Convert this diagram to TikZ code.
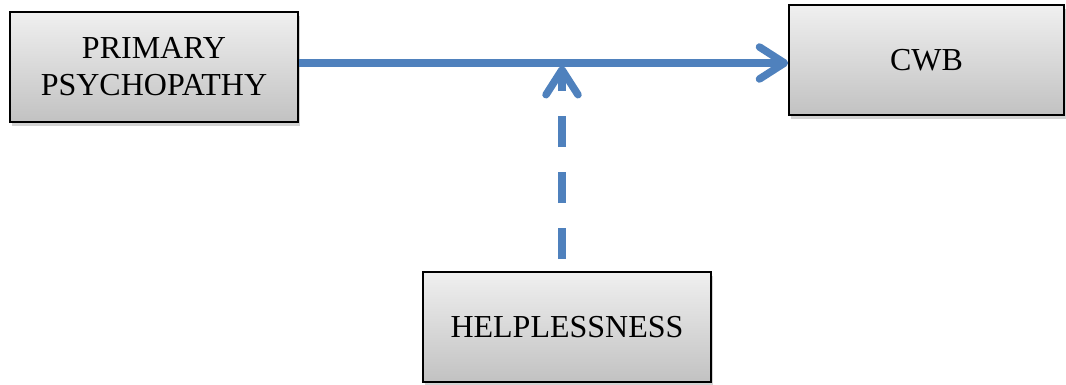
\documentclass[tikz,border=0pt]{standalone}
\usepackage{fontspec}
\setmainfont{Liberation Serif}
\usetikzlibrary{arrows.meta}
\usetikzlibrary{shadows}
\definecolor{linkblue}{HTML}{4F81BD}

\begin{document}
\begin{tikzpicture}[x=1pt,y=-1pt,
  varbox/.style={draw=black,line width=1.6pt,rectangle,inner sep=0pt,
    top color=gray!12,bottom color=gray!48,align=center,
    font=\fontsize{32}{37}\selectfont,
    drop shadow={shadow xshift=2pt,shadow yshift=-4pt,opacity=0.35}},
  link/.style={draw=linkblue,line width=7.5pt,
    -{Straight Barb[length=25pt,width=32pt,round]}}]
\useasboundingbox (0,0) rectangle (1066,385);
% the three variables
\node[varbox,minimum width=288pt,minimum height=110pt] (pp) at (154,67) {PRIMARY\\PSYCHOPATHY};
\node[varbox,minimum width=275pt,minimum height=110pt] (cwb) at (926.5,60) {CWB};
\node[varbox,minimum width=288pt,minimum height=110pt] (help) at (567,327) {HELPLESSNESS};
% moderation point on the main path
\coordinate (mod) at (562,63);
\draw[link] (pp.east |- mod) -- (cwb.west |- mod);
\draw[link,dash pattern=on 31pt off 25pt,shorten <=12pt,shorten >=3pt] (help.north -| mod) -- (mod);
\end{tikzpicture}
\end{document}
